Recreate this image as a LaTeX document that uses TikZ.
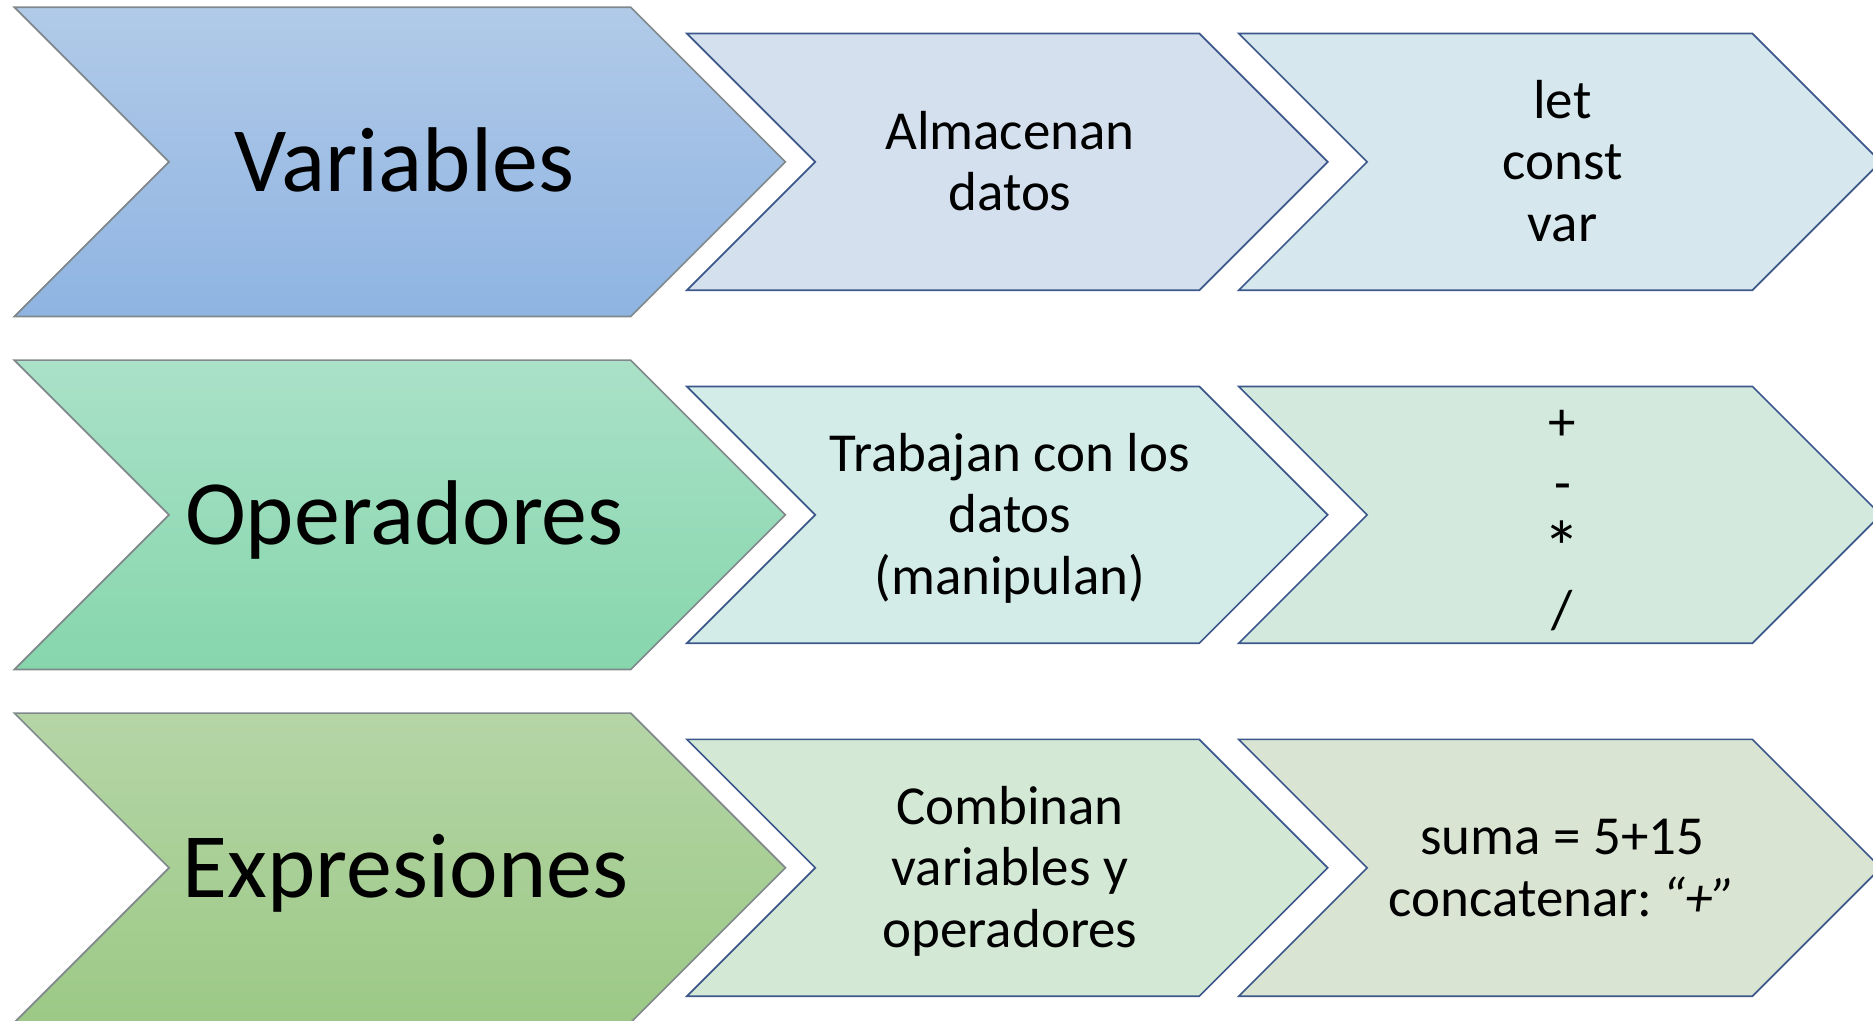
\documentclass[tikz,border=0pt]{standalone}
\usepackage{fontspec}
\setmainfont{Carlito}
\definecolor{aOneT}{RGB}{177,202,232}
\definecolor{aOneB}{RGB}{143,180,226}
\definecolor{aTwoT}{RGB}{170,225,200}
\definecolor{aTwoB}{RGB}{134,214,172}
\definecolor{aThrT}{RGB}{181,213,166}
\definecolor{aThrB}{RGB}{156,201,134}
\definecolor{bOne}{RGB}{213,224,238}
\definecolor{cOne}{RGB}{214,232,238}
\definecolor{bTwo}{RGB}{212,236,232}
\definecolor{cTwo}{RGB}{212,233,222}
\definecolor{bThr}{RGB}{212,232,214}
\definecolor{cThr}{RGB}{217,228,211}
\definecolor{edgeblue}{RGB}{60,88,138}
\definecolor{edgegray}{RGB}{128,136,140}
\newcommand\chevron[5]{% style, x0, ytop, w, h
  \path[#1] (#2,#3) -- ++(#4,0) -- ++({#5/2},{#5/2}) -- ++({-#5/2},{#5/2})
    -- ++(-#4,0) -- ++({#5/2},{-#5/2}) -- cycle;}
\newcommand\tl[1]{\begin{tabular}[t]{@{}c@{}}#1\end{tabular}}
\tikzset{
  bigchev/.style={draw=edgegray, line width=0.4pt},
  smallchev/.style={draw=edgeblue, line width=0.4pt},
  bigtext/.style={font=\fontsize{21.9}{26}\selectfont, inner sep=0pt, anchor=base},
  smalltext/.style={font=\fontsize{13.1}{14.65}\selectfont, inner sep=0pt, anchor=base}
}
\begin{document}
\begin{tikzpicture}[x=0.1mm, y=-0.1mm]
\useasboundingbox (0,0) rectangle (1568,854.7);
\clip (0,0) rectangle (1568,854.7);
% row 1
\chevron{bigchev, top color=aOneT, bottom color=aOneB}{12}{6}{516}{259}
\chevron{smallchev, fill=bOne}{575}{28}{429}{215}
\chevron{smallchev, fill=cOne}{1037}{28}{430}{215}
% row 2
\chevron{bigchev, top color=aTwoT, bottom color=aTwoB}{12}{301.5}{516}{259}
\chevron{smallchev, fill=bTwo}{575}{323.5}{429}{215}
\chevron{smallchev, fill=cTwo}{1037}{323.5}{430}{215}
% row 3
\chevron{bigchev, top color=aThrT, bottom color=aThrB}{12}{597}{516}{259}
\chevron{smallchev, fill=bThr}{575}{619}{429}{215}
\chevron{smallchev, fill=cThr}{1037}{619}{430}{215}
% texts
\node[bigtext] (var) at (338.5,160.3) {Variables};
\node[bigtext] (ope) at (338.5,455.8) {Operadores};
\node[bigtext] (exp) at (339.5,751.3) {Expresiones};
\node[smalltext] (alm) at (845.5,124.75) {\tl{Almacenan\\datos}};
\node[smalltext] (kw) at (1308,99) {\tl{let\\const\\var}};
\node[smalltext] (trab) at (845.5,394.5) {\tl{Trabajan con los\\datos\\(manipulan)}};
\node[smalltext] (ops) at (1308,368.75) {\tl{+\\-\\{\raisebox{-0.12em}{\scalebox{1.35}{*}}}\\/}};
\node[smalltext] (comb) at (845.5,690) {\tl{Combinan\\variables y\\operadores}};
\node[smalltext] (suma) at (1308,715.75) {\tl{suma = 5+15\\concatenar:\hspace{-0.12em} \textit{“+”}}};
\end{tikzpicture}
\end{document}
